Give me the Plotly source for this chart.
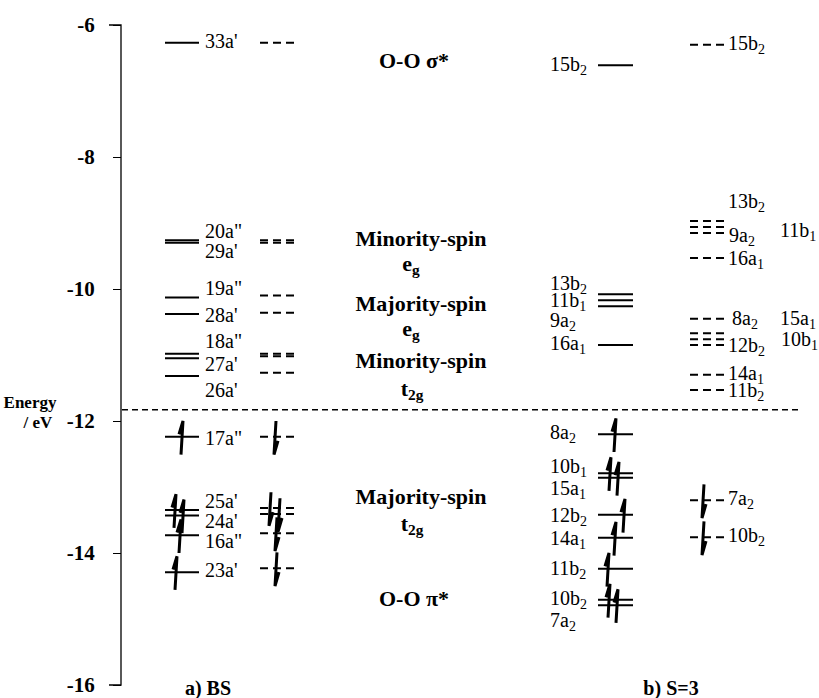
import plotly.graph_objects as go

# ---------------- data ----------------
# a) BS : alpha (solid) and beta (dashed) levels, eV
bs_labels = ["33a'", '20a"', "29a'", '19a"', "28a'", '18a"', "27a'", "26a'",
             '17a"', "25a'", "24a'", '16a"', "23a'"]
bs_alpha_E = [-6.27, -9.26, -9.30, -10.13, -10.38, -10.98, -11.05, -11.32,
              -12.24, -13.35, -13.43, -13.73, -14.29]
bs_beta_E = [-6.27, -9.26, -9.30, -10.10, -10.36, -10.98, -11.02, -11.27,
             -12.24, -13.32, -13.41, -13.70, -14.23]
bs_occupied = [False] * 8 + [True] * 5

# b) S=3 : alpha (solid) levels
s3a_labels = ["15b<sub>2</sub>", "13b<sub>2</sub>", "11b<sub>1</sub>", "9a<sub>2</sub>",
              "16a<sub>1</sub>", "8a<sub>2</sub>", "10b<sub>1</sub>", "15a<sub>1</sub>",
              "12b<sub>2</sub>", "14a<sub>1</sub>", "11b<sub>2</sub>", "10b<sub>2</sub>",
              "7a<sub>2</sub>"]
s3a_E = [-6.61, -10.08, -10.17, -10.26, -10.85, -12.20, -12.79, -12.86,
         -13.42, -13.77, -14.24, -14.71, -14.79]
s3a_occupied = [False] * 5 + [True] * 8

# b) S=3 : beta (dashed) levels
s3b_labels = ["15b<sub>2</sub>", "13b<sub>2</sub>", "9a<sub>2</sub>", "11b<sub>1</sub>",
              "16a<sub>1</sub>", "8a<sub>2</sub>", "15a<sub>1</sub>", "10b<sub>1</sub>",
              "12b<sub>2</sub>", "14a<sub>1</sub>", "11b<sub>2</sub>", "7a<sub>2</sub>",
              "10b<sub>2</sub>"]
s3b_E = [-6.30, -8.97, -9.06, -9.15, -9.53, -10.45, -10.67, -10.76,
         -10.85, -11.30, -11.53, -13.20, -13.76]
s3b_occupied = [False] * 11 + [True] * 2

fermi_E = -11.83

region_texts = ["O-O σ*", "Minority-spin", "e<sub>g</sub>", "Majority-spin", "e<sub>g</sub>",
                "Minority-spin", "t<sub>2g</sub>", "Majority-spin", "t<sub>2g</sub>", "O-O π*"]

y_ticks = [-6, -8, -10, -12, -14, -16]
y_ticktext = ["-6", "-8", "-10", "-12", "-14", "-16"]

# ---------------- layout positions (pixels / energy offsets) ----------------
W, H = 819, 698
PX_PER_EV = 66.0
Y_TOP_PX = 25          # pixel row of -6 eV
def px2e(py):
    return -6 - (py - Y_TOP_PX) / PX_PER_EV

AXIS_X = 121
col_bs_a = (165, 199)
col_bs_b = (260, 295)
col_s3_a = (598, 633)
col_s3_b = (690, 725)

bs_label_y_px = [43, 233, 253, 290, 317, 343, 366, 392, 440, 503, 523, 543, 572]
s3a_label_y_px = [66, 285, 302, 322, 345, 434, 468, 490, 517, 540, 570, 600, 622]
s3b_label_pos_px = [(728, 45), (728, 203), (729, 237), (780, 232), (728, 260), (732, 320),
                    (780, 320), (781, 341), (728, 347), (728, 375), (728, 392),
                    (728, 500), (728, 537)]
bs_a_arrow_x = [182, 175, 183, 180, 176]
bs_b_arrow_x = [275, 270, 279, 276, 276]
s3a_arrow_x = [615, 610, 618, 624, 615, 608, 609, 617]
s3b_arrow_x = [703, 703]
region_pos_px = [(414, 62), (421, 240), (411, 265), (421, 305), (411, 330),
                 (421, 362), (412, 390), (421, 498), (412, 525), (414, 600)]

SERIF = "Liberation Serif"

fig = go.Figure()


def level_trace(energies, xr, dash):
    xs, ys = [], []
    for e in energies:
        xs += [xr[0], xr[1], None]
        ys += [e, e, None]
    return go.Scatter(x=xs, y=ys, mode="lines", hoverinfo="skip", showlegend=False,
                      line=dict(color="black", width=2, dash=dash))


def arrow_trace(energies, occ, arrow_x, up):
    xs, ys = [], []
    occ_E = [e for e, o in zip(energies, occ) if o]
    for e, x in zip(occ_E, arrow_x):
        if up:
            xs += [x - 1, x + 1, x - 3, None]
            ys += [e - 0.27, e + 0.24, e + 0.04, None]
        else:
            xs += [x + 1, x - 1, x + 3, None]
            ys += [e + 0.24, e - 0.27, e - 0.06, None]
    return go.Scatter(x=xs, y=ys, mode="lines", hoverinfo="skip", showlegend=False,
                      line=dict(color="black", width=3))


def text_trace(xs, ys, texts, pos, size=20, bold=False):
    return go.Scatter(x=xs, y=ys, text=texts, mode="text", textposition=pos,
                      hoverinfo="skip", showlegend=False, cliponaxis=False,
                      textfont=dict(family=SERIF, size=size, color="black",
                                    weight="bold" if bold else "normal"))


LEVEL_DASH = "8px,5px"

# levels
fig.add_trace(level_trace(bs_alpha_E, col_bs_a, "solid"))
fig.add_trace(level_trace(bs_beta_E, col_bs_b, LEVEL_DASH))
fig.add_trace(level_trace(s3a_E, col_s3_a, "solid"))
fig.add_trace(level_trace(s3b_E, col_s3_b, LEVEL_DASH))

# electrons
fig.add_trace(arrow_trace(bs_alpha_E, bs_occupied, bs_a_arrow_x, True))
fig.add_trace(arrow_trace(bs_beta_E, bs_occupied, bs_b_arrow_x, False))
fig.add_trace(arrow_trace(s3a_E, s3a_occupied, s3a_arrow_x, True))
fig.add_trace(arrow_trace(s3b_E, s3b_occupied, s3b_arrow_x, False))

# Fermi level
fig.add_trace(go.Scatter(x=[AXIS_X + 1, 800], y=[fermi_E, fermi_E], mode="lines",
                         hoverinfo="skip", showlegend=False,
                         line=dict(color="black", width=1.5, dash="6px,4px")))

# axis line with end caps
fig.add_trace(go.Scatter(x=[AXIS_X - 12, AXIS_X, AXIS_X, AXIS_X - 12],
                         y=[y_ticks[0], y_ticks[0], y_ticks[-1], y_ticks[-1]],
                         mode="lines", hoverinfo="skip", showlegend=False,
                         line=dict(color="black", width=1.3)))

# orbital labels
fig.add_trace(text_trace([205] * len(bs_labels), [px2e(p) for p in bs_label_y_px],
                         bs_labels, "middle right"))
fig.add_trace(text_trace([550] * len(s3a_labels), [px2e(p) for p in s3a_label_y_px],
                         s3a_labels, "middle right"))
fig.add_trace(text_trace([p[0] for p in s3b_label_pos_px], [px2e(p[1]) for p in s3b_label_pos_px],
                         s3b_labels, "middle right"))

# region labels
fig.add_trace(text_trace([p[0] for p in region_pos_px], [px2e(p[1]) for p in region_pos_px],
                         region_texts, "middle center", size=22, bold=True))

# panel labels and axis title
fig.add_trace(text_trace([208, 671], [px2e(690), px2e(690)], ["a) BS", "b) S=3"],
                         "middle center", size=20, bold=True))
fig.add_trace(text_trace([30, 38], [px2e(404), px2e(424)], ["Energy", "/ eV"],
                         "middle center", size=17, bold=True))

fig.update_layout(
    width=W, height=H, margin=dict(l=0, r=0, t=0, b=0),
    paper_bgcolor="white", plot_bgcolor="white", showlegend=False,
    xaxis=dict(range=[0, W], visible=False, fixedrange=True),
    yaxis=dict(range=[px2e(H), px2e(0)], domain=[0, 1], anchor="free",
               position=AXIS_X / W, showline=False, showgrid=False, zeroline=False,
               tickvals=y_ticks, ticktext=y_ticktext, ticks="outside", ticklen=8,
               tickwidth=1.2, tickcolor="black", ticklabelstandoff=14,
               tickfont=dict(family=SERIF, size=21, color="black", weight="bold")),
)

fig.write_html("out.html")
